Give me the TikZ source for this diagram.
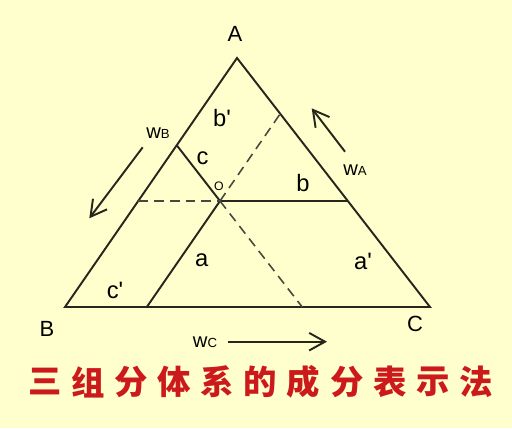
\documentclass[tikz,border=0pt]{standalone}
\usepackage{fontspec}
\setmainfont{Liberation Sans}
\newfontfamily\cjk{Noto Sans CJK SC}
\usetikzlibrary{arrows.meta}
\usetikzlibrary{positioning}

\definecolor{paper}{RGB}{255,255,206}
\definecolor{ink}{RGB}{38,38,28}
\definecolor{seal}{RGB}{204,26,28}

\begin{document}
\begin{tikzpicture}[x=0.2mm,y=-0.2mm,
  sideline/.style={ink,line width=1.1pt,line join=miter},
  dashline/.style={ink!85,line width=0.9pt,dash pattern=on 5.5pt off 3.5pt},
  vtx/.style={font=\fontsize{12.5}{12.5}\selectfont,inner sep=0pt},
  lbl/.style={font=\fontsize{13.5}{13.5}\selectfont,inner sep=0pt},
  wlbl/.style={font=\fontsize{11.5}{11.5}\selectfont,inner sep=0pt},
  flowarrow/.style={ink,line width=1.1pt,-{Straight Barb[length=9pt,width=10pt]}},
  title/.style={font=\cjk\bfseries\fontsize{19}{19}\selectfont,text=seal,inner sep=0pt}]
\fill[paper] (0,0) rectangle (512,428);
\useasboundingbox (0,0) rectangle (512,428);

% triangle and the point O
\coordinate (A) at (237,58);
\coordinate (B) at (65,307);
\coordinate (C) at (430,307);
\coordinate (O) at (220,201);
\coordinate (OL) at (138.2,201);
\coordinate (OR) at (347.8,201);
\coordinate (OAB) at (176.7,145.2);
\coordinate (OBC) at (146.8,307);
\coordinate (OAC) at (280.2,113.8);
\coordinate (OCB) at (302.2,307);

\draw[sideline] (A) -- (B) -- (C) -- cycle;
\draw[sideline] (O) -- (OR);
\draw[sideline] (OAB) -- (O) -- (OBC);
\draw[dashline] (OL) -- (O);
\draw[dashline] (O) -- (OAC);
\draw[dashline] (O) -- (OCB);

\node[vtx] (lA) at (235,34) {A};
\node[vtx] (lB) at (47,329) {B};
\node[vtx] (lC) at (415,324) {C};
\node[font=\fontsize{7}{7}\selectfont,inner sep=0pt] (lO) at (219,186) {O};

\node[lbl] (lbp) at (222,118) {b\textquotesingle};
\node[lbl] (lc) at (202.5,158) {c};
\node[lbl] (lb) at (303,183) {b};
\node[lbl] (la) at (201.7,260) {a};
\node[lbl] (lap) at (363,261) {a\textquotesingle};
\node[lbl] (lcp) at (115,290) {c\textquotesingle};

% composition arrows
\node[wlbl] (wB) at (158,133) {w{\fontsize{7.5}{7.5}\selectfont B}};
\node[wlbl] (wA) at (355,170) {w{\fontsize{7.5}{7.5}\selectfont A}};
\node[wlbl] (wC) at (205,342) {w{\fontsize{7.5}{7.5}\selectfont C}};
\coordinate (wBs) at (142.7,147.3);
\coordinate (wBe) at (89.3,218.3);
\coordinate (wAs) at (345,151.7);
\coordinate (wAe) at (311.7,108.3);
\coordinate (wCs) at (228.3,341.7);
\coordinate (wCe) at (327,341.7);
\draw[flowarrow] (wBs) -- (wBe);
\draw[flowarrow] (wAs) -- (wAe);
\draw[flowarrow] (wCs) -- (wCe);

% caption
\foreach \ch [count=\i] in {三,组,分,体,系,的,成,分,表,示,法}
  \node[title] (t\i) at ({45+43.1*(\i-1)},382) {\ch};
\end{tikzpicture}
\end{document}
